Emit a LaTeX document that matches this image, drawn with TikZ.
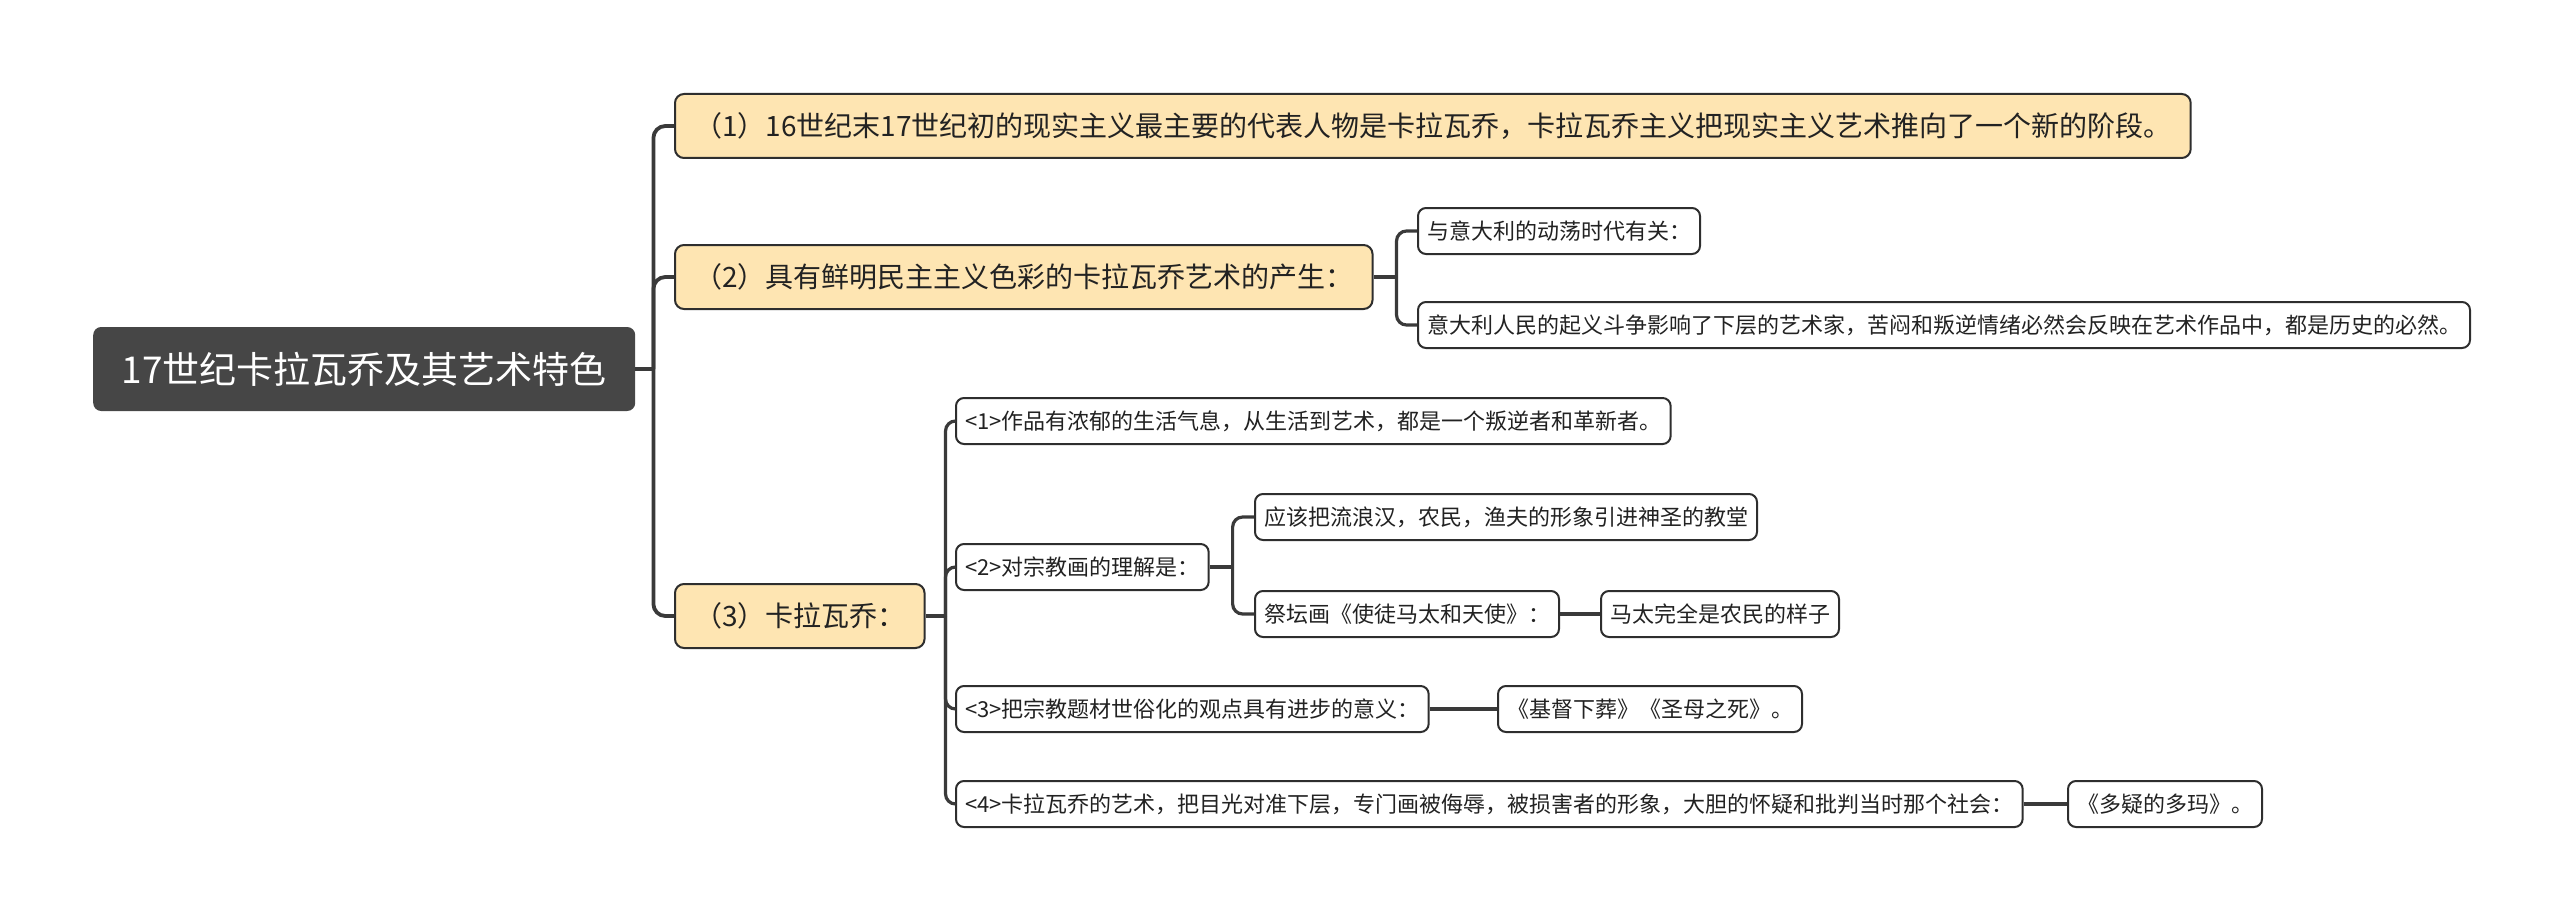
\documentclass[tikz,border=0pt]{standalone}
\usepackage{fontspec}
\setmainfont{Noto Sans CJK SC}
\definecolor{rootgray}{HTML}{464646}
\definecolor{topicfill}{HTML}{FEE5B2}
\definecolor{edgec}{HTML}{2E2E2E}
\definecolor{linec}{HTML}{3A3A3A}
\definecolor{textc}{HTML}{222222}
\begin{document}
\begin{tikzpicture}[x=1pt,y=-1pt,
  rootbox/.style={draw=none, fill=rootgray, rounded corners=8pt, text=white,
    font=\fontsize{37}{41}\selectfont, minimum height=84pt, minimum width=542pt, inner xsep=20pt, anchor=west},
  topic/.style={draw=edgec, line width=2pt, fill=topicfill, rounded corners=9pt,
    font=\fontsize{28}{32}\selectfont, minimum height=64pt, inner xsep=19pt, anchor=west, text=textc},
  sub/.style={draw=edgec, line width=2pt, fill=white, rounded corners=8pt,
    font=\fontsize{22}{26}\selectfont, minimum height=46pt, inner xsep=9pt, anchor=west, text=textc},
  conn/.style={draw=linec, line width=3.8pt, rounded corners=12pt},
  conn2/.style={draw=linec, line width=3.2pt, rounded corners=10pt},
  straight/.style={draw=linec, line width=3.2pt}]
\useasboundingbox (0,0) rectangle (2560,923);

\node[rootbox] (root) at (93,369) {17世纪卡拉瓦乔及其艺术特色};

\node[topic] (n1) at (674,126) {（1）16世纪末17世纪初的现实主义最主要的代表人物是卡拉瓦乔，卡拉瓦乔主义把现实主义艺术推向了一个新的阶段。};
\node[topic] (n2) at (674,277) {（2）具有鲜明民主主义色彩的卡拉瓦乔艺术的产生：};
\node[topic] (n3) at (674,616) {（3）卡拉瓦乔：};

\node[sub] (c21) at (1417,231) {与意大利的动荡时代有关：};
\node[sub] (c22) at (1417,325) {意大利人民的起义斗争影响了下层的艺术家，苦闷和叛逆情绪必然会反映在艺术作品中，都是历史的必然。};

\node[sub] (c31) at (955,421) {<1>作品有浓郁的生活气息，从生活到艺术，都是一个叛逆者和革新者。};
\node[sub] (c32) at (955,567) {<2>对宗教画的理解是：};
\node[sub] (c33) at (955,709) {<3>把宗教题材世俗化的观点具有进步的意义：};
\node[sub] (c34) at (955,804) {<4>卡拉瓦乔的艺术，把目光对准下层，专门画被侮辱，被损害者的形象，大胆的怀疑和批判当时那个社会：};

\node[sub] (c321) at (1254,517) {应该把流浪汉，农民，渔夫的形象引进神圣的教堂};
\node[sub] (c322) at (1254,614) {祭坛画《使徒马太和天使》：};
\node[sub] (c3221) at (1600,614) {马太完全是农民的样子};
\node[sub] (c331) at (1497,709) {《基督下葬》《圣母之死》。};
\node[sub] (c341) at (2067,804) {《多疑的多玛》。};

% connectors
\coordinate (j0) at ([xshift=18pt]root.east);
\draw[conn, rounded corners=0pt] (root.east) -- (j0);
\foreach \t in {n1,n2,n3} \draw[conn] (j0) |- (\t.west);

\coordinate (j2) at ([xshift=23pt]n2.east);
\draw[conn2, rounded corners=0pt] (n2.east) -- (j2);
\foreach \t in {c21,c22} \draw[conn2] (j2) |- (\t.west);

\coordinate (j3) at ([xshift=20pt]n3.east);
\draw[conn2, rounded corners=0pt] (n3.east) -- (j3);
\foreach \t in {c31,c32,c33,c34} \draw[conn2] (j3) |- (\t.west);

\coordinate (j32) at ([xshift=23pt]c32.east);
\draw[conn2, rounded corners=0pt] (c32.east) -- (j32);
\foreach \t in {c321,c322} \draw[conn2] (j32) |- (\t.west);

\draw[straight] (c322.east) -- (c3221.west);
\draw[straight] (c33.east) -- (c331.west);
\draw[straight] (c34.east) -- (c341.west);
\end{tikzpicture}
\end{document}
